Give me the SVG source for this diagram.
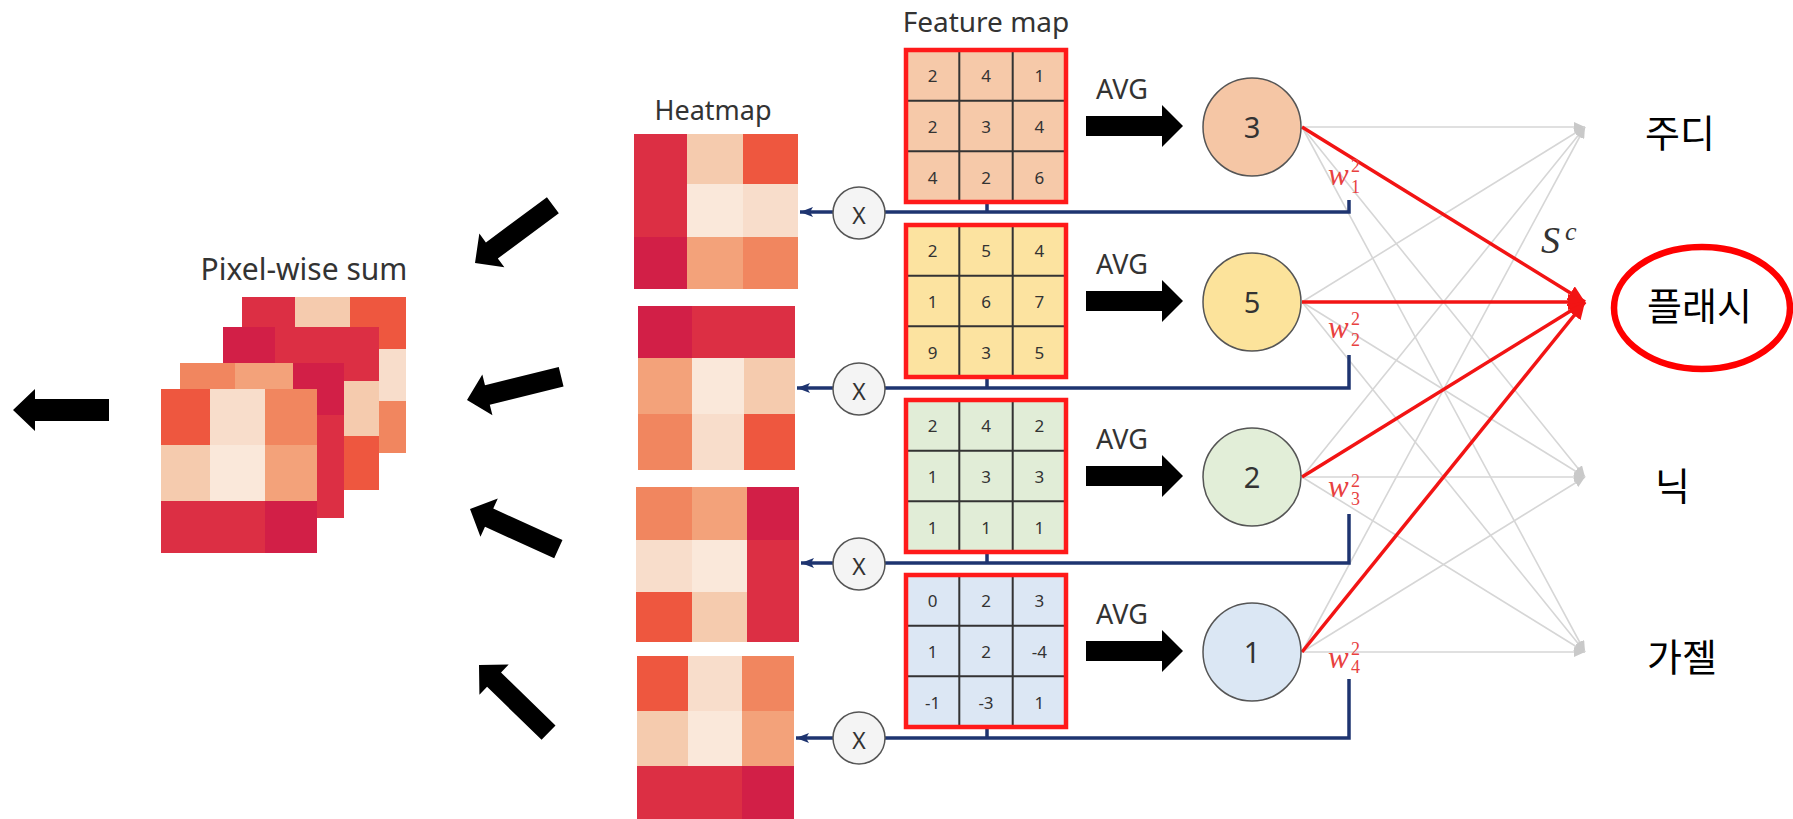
<svg xmlns="http://www.w3.org/2000/svg" width="1793" height="819" viewBox="0 0 1793 819">
  <style>
    .lbl { font-family: "Noto Sans", "Open Sans", sans-serif; fill: #333; }
    .num { font-family: "Noto Sans", "Open Sans", sans-serif; font-size: 17px; fill: #333; text-anchor: middle; }
    .big { font-family: "Noto Sans", "Open Sans", sans-serif; font-size: 29px; fill: #333; text-anchor: middle; }
    .kr { font-family: "Noto Sans CJK KR", "Noto Sans", sans-serif; font-size: 38px; fill: #000; }
    .wt { font-family: "Liberation Serif", "DejaVu Serif", serif; fill: #E8413F; }
    .it { font-style: italic; }
    .c1 { fill: #DC2F44; } .c2 { fill: #D21F47; } .c3 { fill: #EE573F; } .c4 { fill: #F1865F; }
    .c5 { fill: #F3A27A; } .c6 { fill: #F5CBAE; } .c7 { fill: #F8DDCB; } .c8 { fill: #FAE8DA; }
    .grid { stroke: #333; stroke-width: 2; fill: none; }
    .frame { stroke: #FF1A1A; stroke-width: 4.5; fill: none; }
    .node { stroke: #555; stroke-width: 1.5; }
    .mul { fill: #F4F4F4; stroke: #555; stroke-width: 1.5; }
    .blue { stroke: #1E3470; stroke-width: 3.5; fill: none; }
    .gray { stroke: #D6D6D6; stroke-width: 1.6; fill: none; }
    .red { stroke: #F21414; stroke-width: 3.5; fill: none; }
    .blk { fill: #000; }
  </style>
  <defs>
    <marker id="navyHead" markerUnits="userSpaceOnUse" markerWidth="14" markerHeight="10" refX="13" refY="5" orient="auto">
      <path d="M0,0 L13,5 L0,10 L3,5 Z" fill="#1E3470"/>
    </marker>
    <marker id="grayHead" markerUnits="userSpaceOnUse" markerWidth="12" markerHeight="10" refX="11" refY="5" orient="auto">
      <path d="M0,0 L11,5 L0,10 Z" fill="#C9C9C9"/>
    </marker>
    <marker id="redHead" markerUnits="userSpaceOnUse" markerWidth="18" markerHeight="16" refX="17" refY="8" orient="auto">
      <path d="M0,0 L17,8 L0,16 Z" fill="#F21414"/>
    </marker>
    <!-- thick block arrow, tip at origin, pointing right -->
    <path id="blockArrow" d="M0,0 L-21,-21 L-21,-10 L-97,-10 L-97,10 L-21,10 L-21,21 Z"/>
  </defs>

  <rect width="1793" height="819" fill="#fff"/>

  <!-- titles -->
  <g id="titles">
    <text class="lbl" x="986" y="32" font-size="28" text-anchor="middle">Feature map</text>
    <text class="lbl" x="713" y="120" font-size="27" text-anchor="middle">Heatmap</text>
    <text class="lbl" x="304" y="280" font-size="30" text-anchor="middle">Pixel-wise sum</text>
  </g>

  <!-- connectors -->
  <g id="connectors">
    <!-- dense layer: every pooled value to every class -->
    <g>
      <line class="gray" x1="1302" y1="127" x2="1585" y2="127" marker-end="url(#grayHead)"/>
      <line class="gray" x1="1302" y1="127" x2="1585" y2="477" marker-end="url(#grayHead)"/>
      <line class="gray" x1="1302" y1="127" x2="1585" y2="652" marker-end="url(#grayHead)"/>
      <line class="gray" x1="1302" y1="302" x2="1585" y2="127" marker-end="url(#grayHead)"/>
      <line class="gray" x1="1302" y1="302" x2="1585" y2="477" marker-end="url(#grayHead)"/>
      <line class="gray" x1="1302" y1="302" x2="1585" y2="652" marker-end="url(#grayHead)"/>
      <line class="gray" x1="1302" y1="477" x2="1585" y2="127" marker-end="url(#grayHead)"/>
      <line class="gray" x1="1302" y1="477" x2="1585" y2="477" marker-end="url(#grayHead)"/>
      <line class="gray" x1="1302" y1="477" x2="1585" y2="652" marker-end="url(#grayHead)"/>
      <line class="gray" x1="1302" y1="652" x2="1585" y2="127" marker-end="url(#grayHead)"/>
      <line class="gray" x1="1302" y1="652" x2="1585" y2="477" marker-end="url(#grayHead)"/>
      <line class="gray" x1="1302" y1="652" x2="1585" y2="652" marker-end="url(#grayHead)"/>
    </g>
    <g>
      <line class="red" x1="1302" y1="127" x2="1585" y2="302" marker-end="url(#redHead)"/>
      <line class="red" x1="1302" y1="302" x2="1585" y2="302" marker-end="url(#redHead)"/>
      <line class="red" x1="1302" y1="477" x2="1585" y2="302" marker-end="url(#redHead)"/>
      <line class="red" x1="1302" y1="652" x2="1585" y2="302" marker-end="url(#redHead)"/>
    </g>

    <!-- weight feedback lines -->
    <path class="blue" d="M987,204 V212 M885,212 H1349 V200"/>
    <path class="blue" d="M987,379 V388 M885,388 H1349 V355"/>
    <path class="blue" d="M987,554 V563 M885,563 H1349 V514"/>
    <path class="blue" d="M987,729 V738 M885,738 H1349 V679"/>
    <line class="blue" x1="833" y1="212" x2="800" y2="212" stroke-width="3" marker-end="url(#navyHead)"/>
    <line class="blue" x1="833" y1="388" x2="797" y2="388" stroke-width="3" marker-end="url(#navyHead)"/>
    <line class="blue" x1="833" y1="563" x2="801" y2="563" stroke-width="3" marker-end="url(#navyHead)"/>
    <line class="blue" x1="833" y1="738" x2="796" y2="738" stroke-width="3" marker-end="url(#navyHead)"/>

    <!-- AVG arrows -->
    <use href="#blockArrow" class="blk" transform="translate(1183,126)"/>
    <use href="#blockArrow" class="blk" transform="translate(1183,301)"/>
    <use href="#blockArrow" class="blk" transform="translate(1183,476)"/>
    <use href="#blockArrow" class="blk" transform="translate(1183,651)"/>

    <!-- heatmaps into the sum -->
    <use href="#blockArrow" class="blk" transform="translate(475,263) rotate(143.4)"/>
    <use href="#blockArrow" class="blk" transform="translate(467,400) rotate(166.1)"/>
    <use href="#blockArrow" class="blk" transform="translate(470,509) rotate(204.4)"/>
    <use href="#blockArrow" class="blk" transform="translate(479,665) rotate(224.2)"/>

    <!-- output arrow -->
    <path class="blk" d="M13,410 L35,389 L35,399 L109,399 L109,421 L35,421 L35,431 Z"/>
  </g>

  <!-- weight labels -->
  <g id="weights">
    <text class="wt it" x="1328" y="185" font-size="31">w</text>
    <text class="wt" x="1351" y="172" font-size="18">2</text>
    <text class="wt" x="1351" y="193" font-size="18">1</text>
    <text class="wt it" x="1328" y="338" font-size="31">w</text>
    <text class="wt" x="1351" y="325" font-size="18">2</text>
    <text class="wt" x="1351" y="346" font-size="18">2</text>
    <text class="wt it" x="1328" y="497" font-size="31">w</text>
    <text class="wt" x="1351" y="487" font-size="18">2</text>
    <text class="wt" x="1351" y="505" font-size="18">3</text>
    <text class="wt it" x="1328" y="668" font-size="31">w</text>
    <text class="wt" x="1351" y="655" font-size="18">2</text>
    <text class="wt" x="1351" y="673" font-size="18">4</text>
    <text x="1541" y="253" font-family="Liberation Serif, DejaVu Serif, serif" font-style="italic" font-size="38" fill="#333">S</text>
    <text x="1565" y="240" font-family="Liberation Serif, DejaVu Serif, serif" font-style="italic" font-size="26" fill="#333">c</text>
  </g>

  <!-- feature maps -->
  <g id="feature-map-1">
    <rect x="906" y="50" width="160" height="152" fill="#F6C9A9"/>
    <path class="grid" d="M959.3,50 V202 M1012.7,50 V202 M906,100.7 H1066 M906,151.3 H1066"/>
    <rect class="frame" x="906" y="50" width="160" height="152"/>
    <text class="num" x="932.7" y="82">2</text><text class="num" x="986" y="82">4</text><text class="num" x="1039.3" y="82">1</text>
    <text class="num" x="932.7" y="133">2</text><text class="num" x="986" y="133">3</text><text class="num" x="1039.3" y="133">4</text>
    <text class="num" x="932.7" y="184">4</text><text class="num" x="986" y="184">2</text><text class="num" x="1039.3" y="184">6</text>
  </g>
  <g id="feature-map-2" transform="translate(0,175)">
    <rect x="906" y="50" width="160" height="152" fill="#FCE3A0"/>
    <path class="grid" d="M959.3,50 V202 M1012.7,50 V202 M906,100.7 H1066 M906,151.3 H1066"/>
    <rect class="frame" x="906" y="50" width="160" height="152"/>
    <text class="num" x="932.7" y="82">2</text><text class="num" x="986" y="82">5</text><text class="num" x="1039.3" y="82">4</text>
    <text class="num" x="932.7" y="133">1</text><text class="num" x="986" y="133">6</text><text class="num" x="1039.3" y="133">7</text>
    <text class="num" x="932.7" y="184">9</text><text class="num" x="986" y="184">3</text><text class="num" x="1039.3" y="184">5</text>
  </g>
  <g id="feature-map-3" transform="translate(0,350)">
    <rect x="906" y="50" width="160" height="152" fill="#E1EDD7"/>
    <path class="grid" d="M959.3,50 V202 M1012.7,50 V202 M906,100.7 H1066 M906,151.3 H1066"/>
    <rect class="frame" x="906" y="50" width="160" height="152"/>
    <text class="num" x="932.7" y="82">2</text><text class="num" x="986" y="82">4</text><text class="num" x="1039.3" y="82">2</text>
    <text class="num" x="932.7" y="133">1</text><text class="num" x="986" y="133">3</text><text class="num" x="1039.3" y="133">3</text>
    <text class="num" x="932.7" y="184">1</text><text class="num" x="986" y="184">1</text><text class="num" x="1039.3" y="184">1</text>
  </g>
  <g id="feature-map-4" transform="translate(0,525)">
    <rect x="906" y="50" width="160" height="152" fill="#DCE7F4"/>
    <path class="grid" d="M959.3,50 V202 M1012.7,50 V202 M906,100.7 H1066 M906,151.3 H1066"/>
    <rect class="frame" x="906" y="50" width="160" height="152"/>
    <text class="num" x="932.7" y="82">0</text><text class="num" x="986" y="82">2</text><text class="num" x="1039.3" y="82">3</text>
    <text class="num" x="932.7" y="133">1</text><text class="num" x="986" y="133">2</text><text class="num" x="1039.3" y="133">-4</text>
    <text class="num" x="932.7" y="184">-1</text><text class="num" x="986" y="184">-3</text><text class="num" x="1039.3" y="184">1</text>
  </g>

  <!-- pooled values -->
  <g id="avg-1">
    <text class="lbl" x="1122" y="99" font-size="27" text-anchor="middle">AVG</text>
    <circle class="node" cx="1252" cy="127" r="49" fill="#F5C6A5"/>
    <text class="big" x="1252" y="138">3</text>
  </g>
  <g id="avg-2" transform="translate(0,175)">
    <text class="lbl" x="1122" y="99" font-size="27" text-anchor="middle">AVG</text>
    <circle class="node" cx="1252" cy="127" r="49" fill="#FCE39B"/>
    <text class="big" x="1252" y="138">5</text>
  </g>
  <g id="avg-3" transform="translate(0,350)">
    <text class="lbl" x="1122" y="99" font-size="27" text-anchor="middle">AVG</text>
    <circle class="node" cx="1252" cy="127" r="49" fill="#E2EED8"/>
    <text class="big" x="1252" y="138">2</text>
  </g>
  <g id="avg-4" transform="translate(0,525)">
    <text class="lbl" x="1122" y="99" font-size="27" text-anchor="middle">AVG</text>
    <circle class="node" cx="1252" cy="127" r="49" fill="#DBE7F4"/>
    <text class="big" x="1252" y="138">1</text>
  </g>

  <!-- multiply nodes -->
  <g id="mul-1"><circle class="mul" cx="859" cy="213" r="26"/><text class="lbl" x="859" y="224" font-size="23" text-anchor="middle">X</text></g>
  <g id="mul-2"><circle class="mul" cx="859" cy="389" r="26"/><text class="lbl" x="859" y="400" font-size="23" text-anchor="middle">X</text></g>
  <g id="mul-3"><circle class="mul" cx="859" cy="564" r="26"/><text class="lbl" x="859" y="575" font-size="23" text-anchor="middle">X</text></g>
  <g id="mul-4"><circle class="mul" cx="859" cy="738" r="26"/><text class="lbl" x="859" y="749" font-size="23" text-anchor="middle">X</text></g>

  <!-- heatmaps -->
  <g id="heatmap-1">
    <rect class="c1" x="634" y="134" width="53" height="50"/><rect class="c6" x="687" y="134" width="56" height="50"/><rect class="c3" x="743" y="134" width="55" height="50"/>
    <rect class="c1" x="634" y="184" width="53" height="53"/><rect class="c8" x="687" y="184" width="56" height="53"/><rect class="c7" x="743" y="184" width="55" height="53"/>
    <rect class="c2" x="634" y="237" width="53" height="52"/><rect class="c5" x="687" y="237" width="56" height="52"/><rect class="c4" x="743" y="237" width="55" height="52"/>
  </g>
  <g id="heatmap-2">
    <rect class="c2" x="638" y="306" width="54" height="52"/><rect class="c1" x="692" y="306" width="52" height="52"/><rect class="c1" x="744" y="306" width="51" height="52"/>
    <rect class="c5" x="638" y="358" width="54" height="56"/><rect class="c8" x="692" y="358" width="52" height="56"/><rect class="c6" x="744" y="358" width="51" height="56"/>
    <rect class="c4" x="638" y="414" width="54" height="56"/><rect class="c7" x="692" y="414" width="52" height="56"/><rect class="c3" x="744" y="414" width="51" height="56"/>
  </g>
  <g id="heatmap-3">
    <rect class="c4" x="636" y="487" width="56" height="53"/><rect class="c5" x="692" y="487" width="55" height="53"/><rect class="c2" x="747" y="487" width="52" height="53"/>
    <rect class="c7" x="636" y="540" width="56" height="52"/><rect class="c8" x="692" y="540" width="55" height="52"/><rect class="c1" x="747" y="540" width="52" height="52"/>
    <rect class="c3" x="636" y="592" width="56" height="50"/><rect class="c6" x="692" y="592" width="55" height="50"/><rect class="c1" x="747" y="592" width="52" height="50"/>
  </g>
  <g id="heatmap-4">
    <rect class="c3" x="637" y="656" width="51" height="55"/><rect class="c7" x="688" y="656" width="54" height="55"/><rect class="c4" x="742" y="656" width="52" height="55"/>
    <rect class="c6" x="637" y="711" width="51" height="55"/><rect class="c8" x="688" y="711" width="54" height="55"/><rect class="c5" x="742" y="711" width="52" height="55"/>
    <rect class="c1" x="637" y="766" width="51" height="56"/><rect class="c1" x="688" y="766" width="54" height="56"/><rect class="c2" x="742" y="766" width="52" height="56"/>
  </g>

  <!-- stacked heatmaps, back to front -->
  <g id="pixel-wise-sum">
    <g>
      <rect class="c1" x="242" y="297" width="53" height="52"/><rect class="c6" x="295" y="297" width="55" height="52"/><rect class="c3" x="350" y="297" width="56" height="52"/>
      <rect class="c1" x="242" y="349" width="53" height="52"/><rect class="c8" x="295" y="349" width="55" height="52"/><rect class="c7" x="350" y="349" width="56" height="52"/>
      <rect class="c2" x="242" y="401" width="53" height="52"/><rect class="c5" x="295" y="401" width="55" height="52"/><rect class="c4" x="350" y="401" width="56" height="52"/>
    </g>
    <g>
      <rect class="c2" x="223" y="327" width="52" height="54"/><rect class="c1" x="275" y="327" width="52" height="54"/><rect class="c1" x="327" y="327" width="52" height="54"/>
      <rect class="c5" x="223" y="381" width="52" height="55"/><rect class="c8" x="275" y="381" width="52" height="55"/><rect class="c6" x="327" y="381" width="52" height="55"/>
      <rect class="c4" x="223" y="436" width="52" height="54"/><rect class="c7" x="275" y="436" width="52" height="54"/><rect class="c3" x="327" y="436" width="52" height="54"/>
    </g>
    <g>
      <rect class="c4" x="180" y="363" width="55" height="52"/><rect class="c5" x="235" y="363" width="58" height="52"/><rect class="c2" x="293" y="363" width="51" height="52"/>
      <rect class="c7" x="180" y="415" width="55" height="51"/><rect class="c8" x="235" y="415" width="58" height="51"/><rect class="c1" x="293" y="415" width="51" height="51"/>
      <rect class="c3" x="180" y="466" width="55" height="52"/><rect class="c6" x="235" y="466" width="58" height="52"/><rect class="c1" x="293" y="466" width="51" height="52"/>
    </g>
    <g>
      <rect class="c3" x="161" y="389" width="49" height="56"/><rect class="c7" x="210" y="389" width="55" height="56"/><rect class="c4" x="265" y="389" width="52" height="56"/>
      <rect class="c6" x="161" y="445" width="49" height="56"/><rect class="c8" x="210" y="445" width="55" height="56"/><rect class="c5" x="265" y="445" width="52" height="56"/>
      <rect class="c1" x="161" y="501" width="49" height="52"/><rect class="c1" x="210" y="501" width="55" height="52"/><rect class="c2" x="265" y="501" width="52" height="52"/>
    </g>
  </g>

  <!-- class outputs -->
  <g id="class-judy"><text class="kr" x="1645" y="147">주디</text></g>
  <g id="class-flash">
    <ellipse cx="1702" cy="308" rx="88" ry="61" fill="none" stroke="#FF0000" stroke-width="6.5"/>
    <text class="kr" x="1647" y="320">플래시</text>
  </g>
  <g id="class-nick"><text class="kr" x="1655" y="500">닉</text></g>
  <g id="class-gazelle"><text class="kr" x="1647" y="671">가젤</text></g>
</svg>
